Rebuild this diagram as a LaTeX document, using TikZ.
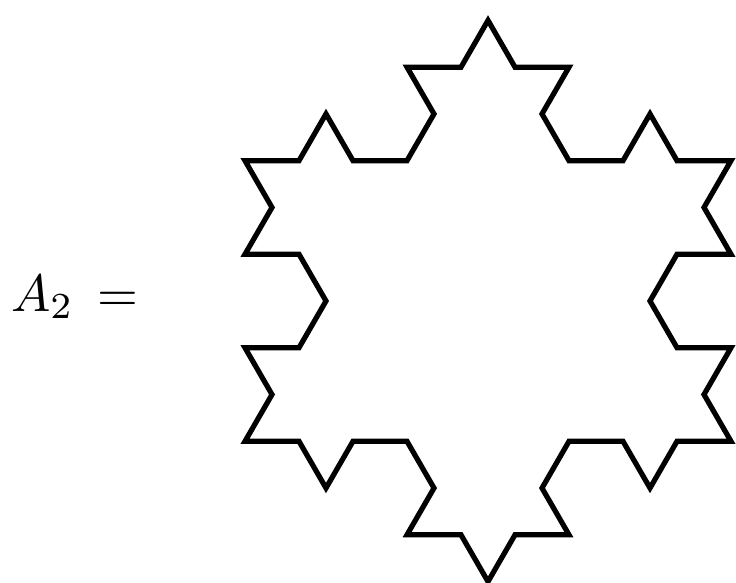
\documentclass[tikz,border=0pt]{standalone}
\begin{document}
\begin{tikzpicture}[x=1pt,y=1pt,
  koch/.style={line width=5.2pt, line join=miter, draw=black},
  lbl/.style={anchor=base west, inner sep=0pt, scale=5.25}]
\useasboundingbox (0,0) rectangle (736,582);
\def\s{54pt}
\coordinate (top) at (488,561.6);
\draw[koch] (top)
  % side 1 (base direction -60)
  -- ++(-60:\s) -- ++(0:\s) -- ++(-120:\s) -- ++(-60:\s)
  -- ++(0:\s) -- ++(60:\s) -- ++(-60:\s) -- ++(0:\s)
  -- ++(-120:\s) -- ++(-60:\s) -- ++(180:\s) -- ++(-120:\s)
  -- ++(-60:\s) -- ++(0:\s) -- ++(-120:\s) -- ++(-60:\s)
  % side 2 (base direction 180)
  -- ++(180:\s) -- ++(240:\s) -- ++(120:\s) -- ++(180:\s)
  -- ++(240:\s) -- ++(300:\s) -- ++(180:\s) -- ++(240:\s)
  -- ++(120:\s) -- ++(180:\s) -- ++(60:\s) -- ++(120:\s)
  -- ++(180:\s) -- ++(240:\s) -- ++(120:\s) -- ++(180:\s)
  % side 3 (base direction 60)
  -- ++(60:\s) -- ++(120:\s) -- ++(0:\s) -- ++(60:\s)
  -- ++(120:\s) -- ++(180:\s) -- ++(60:\s) -- ++(120:\s)
  -- ++(0:\s) -- ++(60:\s) -- ++(-60:\s) -- ++(0:\s)
  -- ++(60:\s) -- ++(120:\s) -- ++(0:\s) -- cycle;
\node[lbl] (label) at (10,271) {$A_2 \, =$};
\end{tikzpicture}
\end{document}
